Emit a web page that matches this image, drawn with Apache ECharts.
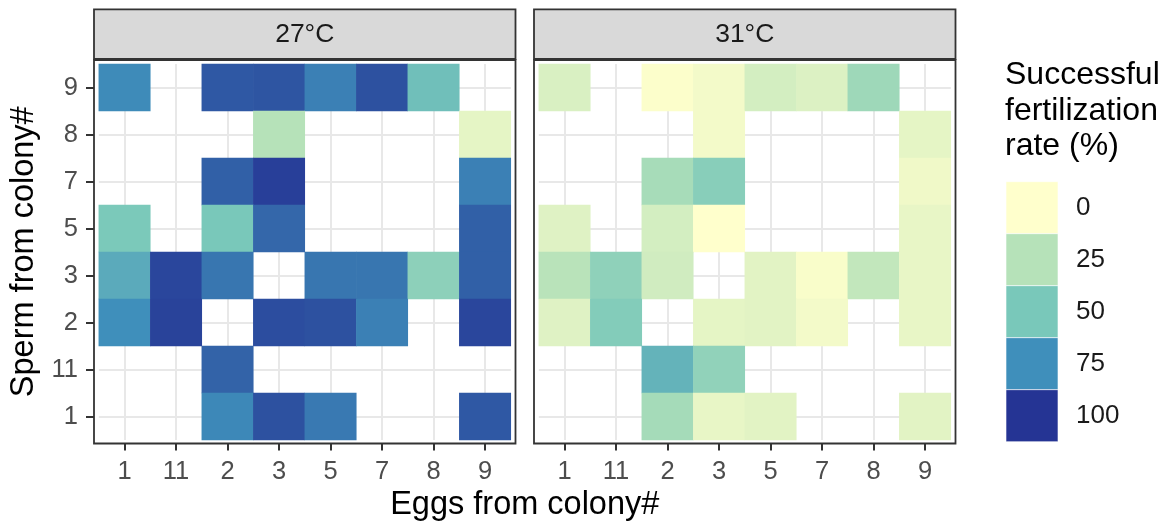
<!DOCTYPE html>
<html><head><meta charset="utf-8">
<script src="https://cdn.jsdelivr.net/npm/echarts@6/dist/echarts.min.js"></script>
<style>html,body{margin:0;padding:0;background:#fff}#chart{width:1174px;height:524px}</style>
</head><body><div id="chart"></div>
<script>
// ---------- data ----------
const eggColonies = ['1', '11', '2', '3', '5', '7', '8', '9'];
const spermColonies = ['1', '11', '2', '3', '5', '7', '8', '9']; // bottom -> top
const panelLabels = ['27°C', '31°C'];
// rows listed top -> bottom, columns follow eggColonies; null = not tested
const rowOrder = ['9', '8', '7', '5', '3', '2', '11', '1'];
const rate27 = [
  [76, null, 90, 91, 79, 92, 54, null],
  [null, null, null, 25, null, null, null, 9],
  [null, null, 88, 97, null, null, null, 79],
  [49, null, 50, 86, null, null, null, 88],
  [63, 95, 82, null, 82, 82, 42, 88],
  [75, 96, null, 93, 92, 79, null, 95],
  [null, null, 87, null, null, null, null, null],
  [null, null, 77, 92, 81, null, null, 90]
];
const rate31 = [
  [13, null, 1, 4, 15, 12, 35, null],
  [null, null, null, 4, null, null, null, 9],
  [null, null, 31, 44, null, null, null, 5],
  [11, null, 15, 0, null, null, null, 8],
  [24, 41, 16, null, 10, 2, 21, 8],
  [11, 46, null, 9, 10, 4, null, 8],
  [null, null, 59, 40, null, null, null, null],
  [null, null, 32, 8, 10, null, null, 10]
];
const legendBreaks = [0, 25, 50, 75, 100];
const legendColors = ['#ffffcc', '#b6e2b9', '#79c8ba', '#3f8fbb', '#253494'];
const xTitle = 'Eggs from colony#';
const yTitle = 'Sperm from colony#';
const legendTitle = 'Successful\nfertilization\nrate (%)';

// ---------- build ----------
const FF = '"Liberation Sans", Arial, Helvetica, sans-serif';
function toCells(mat) {
  const out = [];
  mat.forEach((row, r) => {
    const yi = spermColonies.indexOf(rowOrder[r]);
    row.forEach((v, c) => { if (v !== null) out.push([c, yi, v]); });
  });
  return out;
}
const panelData = [toCells(rate27), toCells(rate31)];

const gridLefts = [98.8, 538.8];
const gridTop = 64, gridW = 412, gridH = 376;
const panelBox = [{x: 94, w: 421.5}, {x: 534, w: 421.5}];
const panelTop = 60, panelBottom = 443.5;
const stripTop = 9.3;

const grids = gridLefts.map(l => ({left: l, top: gridTop, width: gridW, height: gridH}));
const xAxes = gridLefts.map((l, g) => ({
  type: 'category', gridIndex: g, data: eggColonies, offset: panelBottom - (gridTop + gridH),
  axisLine: {show: false},
  axisTick: {show: true, alignWithLabel: true, length: 7, lineStyle: {color: '#333333', width: 2}},
  axisLabel: {margin: 15, fontSize: 25.5, color: '#4d4d4d', fontFamily: FF},
  splitLine: {show: true, alignWithLabel: true, lineStyle: {color: '#e8e8e8', width: 2}}
}));
const yAxes = gridLefts.map((l, g) => ({
  type: 'category', gridIndex: g, data: spermColonies, offset: l - panelBox[g].x,
  axisLine: {show: false},
  axisTick: {show: g === 0, alignWithLabel: true, length: 8, lineStyle: {color: '#333333', width: 2}},
  axisLabel: {show: g === 0, margin: 16, fontSize: 25.5, color: '#4d4d4d', fontFamily: FF},
  splitLine: {show: true, alignWithLabel: true, lineStyle: {color: '#e8e8e8', width: 2}}
}));
const series = panelData.map((d, g) => ({
  type: 'heatmap', xAxisIndex: g, yAxisIndex: g, data: d,
  itemStyle: {borderWidth: 0}, emphasis: {disabled: true}, silent: true
}));

const graphics = [];
panelBox.forEach((p, g) => {
  graphics.push({type: 'rect', z: 100, shape: {x: p.x, y: panelTop, width: p.w, height: panelBottom - panelTop},
    style: {fill: 'none', stroke: '#333333', lineWidth: 1.8}});
  graphics.push({type: 'rect', z: 100, shape: {x: p.x, y: stripTop, width: p.w, height: panelTop - stripTop - 1},
    style: {fill: '#d9d9d9', stroke: '#333333', lineWidth: 1.8}});
  graphics.push({type: 'text', z: 101, x: p.x + p.w / 2, y: (stripTop + panelTop - 1) / 2 + 0.5,
    style: {text: panelLabels[g], font: '26.5px ' + FF, fill: '#1a1a1a', align: 'center', verticalAlign: 'middle', textAlign: 'center', textVerticalAlign: 'middle'}});
});
graphics.push({type: 'text', x: (panelBox[0].x + panelBox[1].x + panelBox[1].w) / 2, y: 505,
  style: {text: xTitle, font: '32.5px ' + FF, fill: '#000', align: 'center', verticalAlign: 'middle', textAlign: 'center', textVerticalAlign: 'middle'}});
graphics.push({type: 'text', x: 24, y: (panelTop + panelBottom) / 2, rotation: Math.PI / 2,
  style: {text: yTitle, font: '32.5px ' + FF, fill: '#000', align: 'center', verticalAlign: 'middle', textAlign: 'center', textVerticalAlign: 'middle'}});
graphics.push({type: 'text', x: 1005, y: 57.5,
  style: {text: legendTitle, font: '32px ' + FF, lineHeight: 35.5, fill: '#000', align: 'left', verticalAlign: 'top', textAlign: 'left', textVerticalAlign: 'top'}});
const keyX = 1006, keyY = 181.7, keySize = 52;
legendBreaks.forEach((b, i) => {
  graphics.push({type: 'rect', shape: {x: keyX, y: keyY + i * keySize, width: keySize, height: keySize},
    style: {fill: legendColors[i], stroke: '#ffffff', lineWidth: 0.6}});
  graphics.push({type: 'text', x: keyX + keySize + 18, y: keyY + i * keySize + keySize / 2,
    style: {text: String(b), font: '26px ' + FF, fill: '#1a1a1a', align: 'left', verticalAlign: 'middle', textAlign: 'left', textVerticalAlign: 'middle'}});
});

const chart = echarts.init(document.getElementById('chart'), null, {renderer: 'canvas'});
chart.setOption({
  animation: false,
  backgroundColor: '#ffffff',
  grid: grids,
  xAxis: xAxes,
  yAxis: yAxes,
  visualMap: {type: 'continuous', show: false, min: 0, max: 100, seriesIndex: [0, 1], inRange: {color: legendColors}},
  series: series,
  graphic: graphics
});
</script>
</body></html>
